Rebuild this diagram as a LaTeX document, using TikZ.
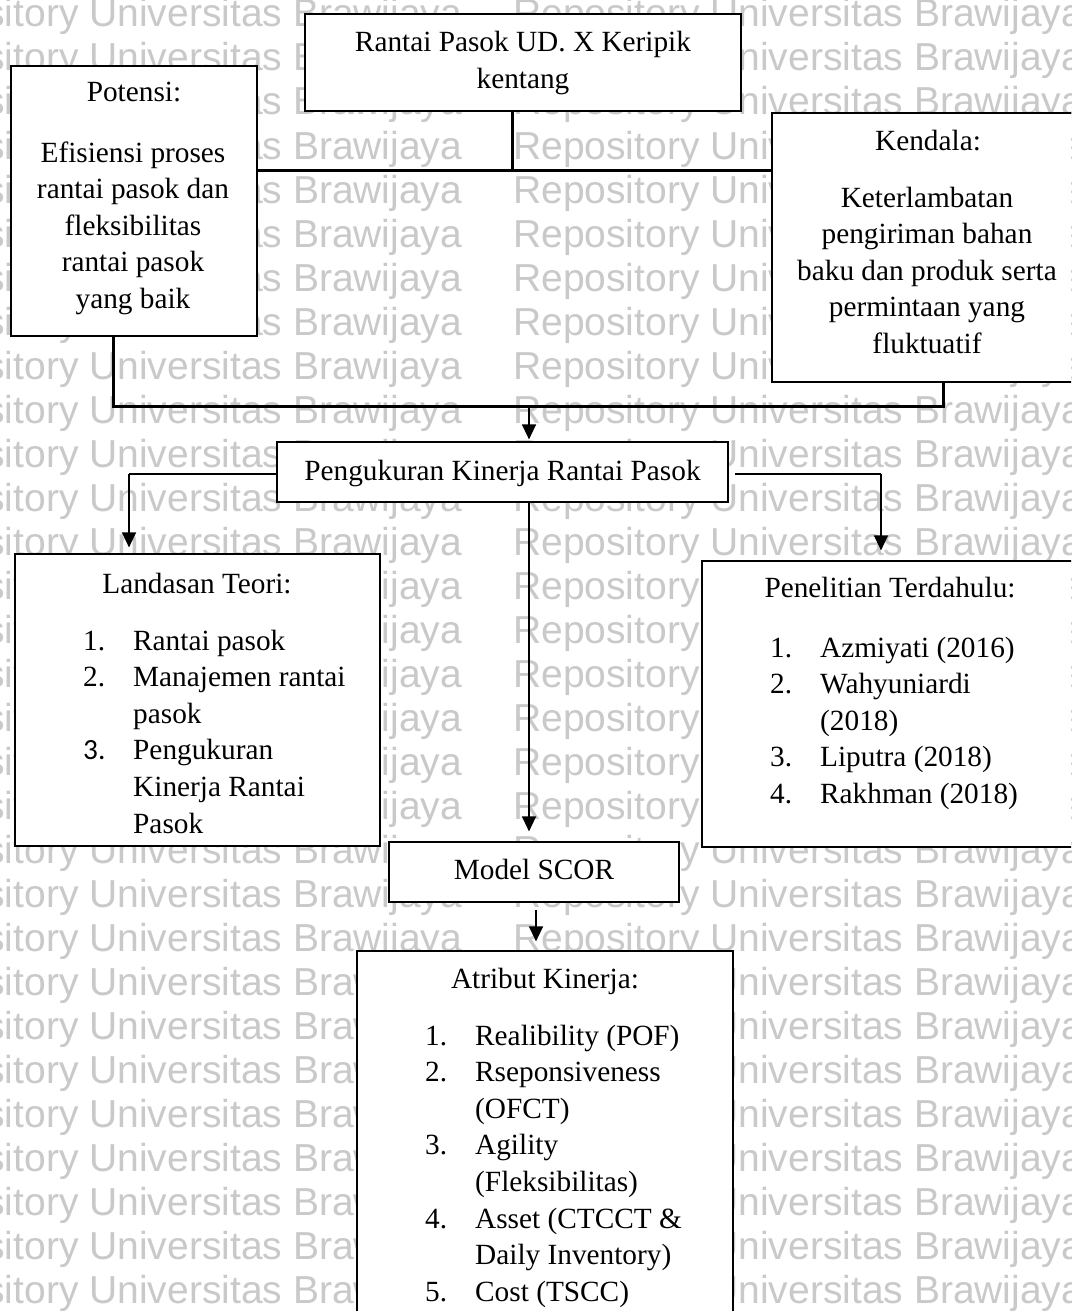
\documentclass[tikz,border=0pt]{standalone}
\usepackage{fontspec}
\setmainfont{Liberation Serif}
\newfontfamily\wmfont{Liberation Sans}
\newfontfamily\carl{Carlito}
\usetikzlibrary{arrows.meta}
\newcommand\mytxtc[2]{\parbox[t]{#1}{\centering #2}}
\newcommand\myitem[2]{\makebox[50pt][l]{#1}#2}
\newcommand\mycont[1]{\hspace*{50pt}#1}
\begin{document}
\begin{tikzpicture}[x=1pt,y=-1pt,
  wm/.style={anchor=base west, inner sep=0pt, text=black!21, font=\wmfont\fontsize{39}{40}\selectfont},
  boxst/.style={draw=black, line width=1.2pt, fill=white, inner sep=0pt},
  txt/.style={anchor=base, inner sep=0pt, font=\fontsize{29.3}{36.6}\selectfont},
  arr/.style={line width=1.3pt, -{Triangle[width=14pt,length=15pt]}},
  bar/.style={line width=3pt},
  hl/.style={line width=2pt}]
\useasboundingbox (0,0) rectangle (1071,1311);
\clip (0,0) rectangle (1071,1311);
\fill[white] (0,0) rectangle (1071,1311);
% watermark
\foreach \wmrow in {0,...,29}{
  \node[wm] (wma\wmrow) at (-108,{27+44*\wmrow}) {Repository Universitas Brawijaya};
  \node[wm] (wmb\wmrow) at (513,{27+44*\wmrow}) {Repository Universitas Brawijaya};
}
% boxes
\node[boxst, minimum width=436pt, minimum height=97pt] (top) at (523,62.5) {};
\node[boxst, minimum width=246pt, minimum height=270pt] (pot) at (134,201) {};
\node[boxst, minimum width=312pt, minimum height=269pt] (ken) at (928,247.5) {};
\node[boxst, minimum width=451pt, minimum height=60pt] (peng) at (502.5,472) {};
\node[boxst, minimum width=365pt, minimum height=292pt] (lan) at (197.5,700) {};
\node[boxst, minimum width=376pt, minimum height=286pt] (pen) at (890,704) {};
\node[boxst, minimum width=290pt, minimum height=60pt] (scor) at (534,872) {};
\node[boxst, minimum width=376pt, minimum height=379pt] (att) at (545,1140.5) {};
% texts
\node[txt] (topT) at (523,52) {\mytxtc{430pt}{Rantai Pasok UD. X Keripik\\kentang}};
\node[txt] (potH) at (134,102) {Potensi:};
\node[txt] (potB) at (133,162) {\mytxtc{240pt}{Efisiensi proses\\rantai pasok dan\\fleksibilitas\\rantai pasok\\yang baik}};
\node[txt] (kenH) at (928,150) {Kendala:};
\node[txt] (kenB) at (927,207) {\mytxtc{300pt}{Keterlambatan\\pengiriman bahan\\baku dan produk serta\\permintaan yang\\fluktuatif}};
\node[txt] (pengT) at (502.5,480) {Pengukuran Kinerja Rantai Pasok};
\node[txt] (lanH) at (197,593) {Landasan Teori:};
\node[txt, anchor=base west] (lanL) at (83,650) {\parbox[t]{290pt}{\raggedright
  \myitem{1.}{Rantai pasok}\\
  \myitem{2.}{Manajemen rantai}\\
  \mycont{pasok}\\
  \myitem{\carl 3.}{Pengukuran}\\
  \mycont{Kinerja Rantai}\\
  \mycont{Pasok}}};
\node[txt] (penH) at (890,597) {Penelitian Terdahulu:};
\node[txt, anchor=base west] (penL) at (770,657) {\parbox[t]{300pt}{\raggedright
  \myitem{1.}{Azmiyati (2016)}\\
  \myitem{2.}{Wahyuniardi}\\
  \mycont{(2018)}\\
  \myitem{3.}{Liputra (2018)}\\
  \myitem{4.}{Rakhman (2018)}}};
\node[txt] (scorT) at (534,879) {Model SCOR};
\node[txt] (attH) at (545,988) {Atribut Kinerja:};
\node[txt, anchor=base west] (attL) at (425,1045) {\parbox[t]{300pt}{\raggedright
  \myitem{1.}{Realibility (POF)}\\
  \myitem{2.}{Rseponsiveness}\\
  \mycont{(OFCT)}\\
  \myitem{3.}{Agility}\\
  \mycont{(Fleksibilitas)}\\
  \myitem{4.}{Asset (CTCCT \&}\\
  \mycont{Daily Inventory)}\\
  \myitem{5.}{Cost (TSCC)}}};
% connectors
\coordinate (jt) at (512,170);
\coordinate (jl) at (113,406);
\coordinate (jr) at (943,406);
\coordinate (jm) at (529,406);
\coordinate (al) at (129,474);
\coordinate (ar) at (881,474);
\coordinate (cs) at (536,902);
\draw[bar] (top.south -| jt) -- (jt);
\draw[bar] (pot.east |- jt) -- (ken.west |- jt);
\draw[bar] (pot.south -| jl) -- (jl) -- (jr) -- (ken.south -| jr);
\draw[arr, shorten >=2pt] (jm) -- (peng.north -| jm);
\draw[hl] (peng.west |- al) -- (al);
\draw[arr, shorten >=6pt] (al) -- (lan.north -| al);
\draw[hl, shorten <=6pt] (peng.east |- ar) -- (ar);
\draw[arr, shorten >=10pt] (ar) -- (pen.north -| ar);
\draw[arr, shorten >=10pt] (peng.south -| jm) -- (scor.north -| jm);
\draw[arr, shorten <=7pt, shorten >=9pt] (scor.south -| cs) -- (att.north -| cs);
\end{tikzpicture}
\end{document}
